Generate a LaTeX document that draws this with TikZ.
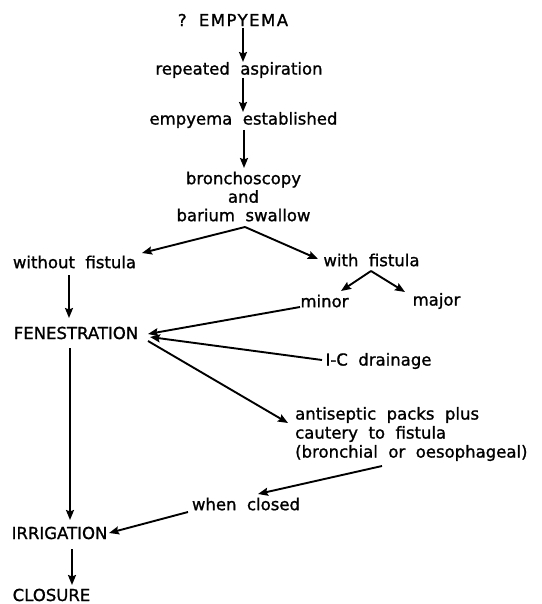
\documentclass[tikz,border=0pt]{standalone}
\usepackage{fontspec}
\setmainfont{DejaVu Sans}[WordSpace=2,BoldFont=DejaVu Sans,BoldFeatures={FakeBold=1.2}]
\usetikzlibrary{arrows.meta}
\begin{document}
\begin{tikzpicture}[x=1pt,y=-1pt,
  lbl/.style={inner sep=0pt,font=\fontsize{16.5}{19}\selectfont\bfseries},
  arr/.style={line width=1.9pt,-{Stealth[length=10pt,width=8pt,inset=1.5pt]}}]
\useasboundingbox (0,0) rectangle (541,604);
\node[lbl] (e0) at (233,20) {? {\addfontfeature{LetterSpace=9}EMPYEMA}};
\node[lbl] (e1) at (239,70) {repeated aspiration};
\node[lbl] (e2) at (243.5,120) {empyema established};
\node[lbl,align=center,font=\fontsize{16.5}{18.5}\selectfont\bfseries] (e3) at (243.5,196.5) {bronchoscopy\\and\\barium swallow};
\node[lbl] (wo) at (74.5,262) {without fistula};
\node[lbl] (wi) at (371.5,260) {with fistula};
\node[lbl] (mi) at (324.5,301) {minor};
\node[lbl] (ma) at (436.5,301) {major};
\node[lbl] (fe) at (76,333) {FENESTRATION};
\node[lbl] (ic) at (378.5,361) {I-C drainage};
\node[lbl,align=left,anchor=west] (an) at (295,434) {antiseptic packs plus\\cautery to fistula\\(bronchial or oesophageal)};
\node[lbl] (wc) at (246,504) {when closed};
\node[lbl] (ir) at (59.5,533) {IRRIGATION};
\node[lbl] (cl) at (51.5,595) {CLOSURE};

\draw[arr] ([shift={(10,8)}]e0.center) -- ([shift={(4,-8)}]e1.center);
\draw[arr] ([shift={(4,8)}]e1.center) -- ([shift={(-0.5,-8)}]e2.center);
\draw[arr] ([shift={(0.5,10)}]e2.center) -- ([shift={(0.5,-28.5)}]e3.center);
\coordinate (apex) at ([shift={(1.5,30.5)}]e3.center);
\draw[arr] (apex) -- ([shift={(67.5,-9)}]wo.center);
\draw[arr] (apex) -- ([shift={(-53.5,-1)}]wi.center);
\coordinate (apex2) at ([shift={(-0.5,11)}]wi.center);
\draw[arr] (apex2) -- ([shift={(16.5,-10)}]mi.center);
\draw[arr] (apex2) -- ([shift={(-31.5,-9)}]ma.center);
\draw[arr] ([shift={(-5.5,13)}]wo.center) -- ([shift={(-7,-15)}]fe.center);
\draw[arr] ([shift={(-24.5,6)}]mi.center) -- ([shift={(72,1)}]fe.center);
\draw[arr] ([shift={(-56.5,-1)}]ic.center) -- ([shift={(74,4)}]fe.center);
\draw[arr] ([shift={(72,8)}]fe.center) -- ([shift={(-7,-11)}]an.west);
\draw[arr] ([shift={(87,32)}]an.west) -- ([shift={(12,-10)}]wc.center);
\draw[arr] ([shift={(-58,8)}]wc.center) -- ([shift={(49.5,0)}]ir.center);
\draw[arr] ([shift={(-6,15)}]fe.center) -- ([shift={(10.5,-13)}]ir.center);
\draw[arr] ([shift={(12.5,16)}]ir.center) -- ([shift={(20.5,-10)}]cl.center);
\end{tikzpicture}
\end{document}
